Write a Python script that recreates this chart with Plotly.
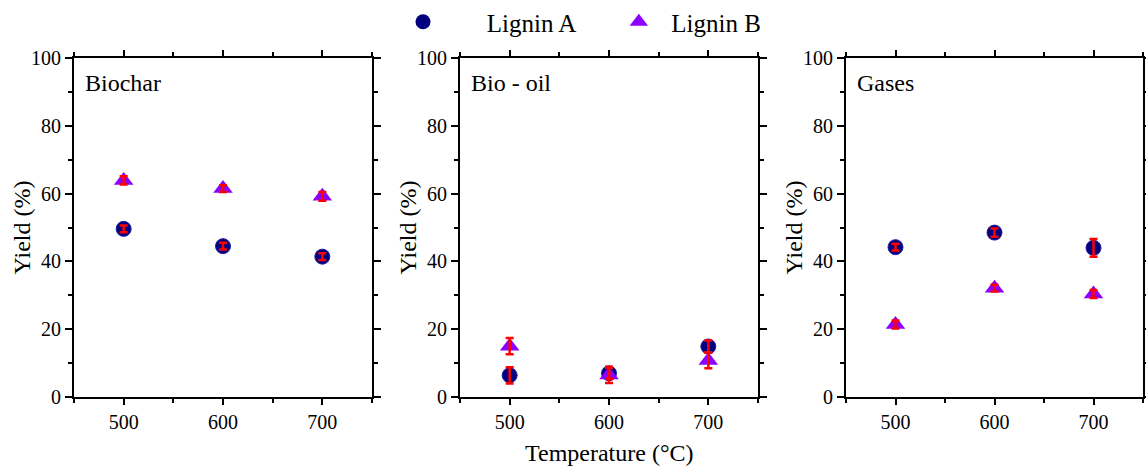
import plotly.graph_objects as go

temps = [500, 600, 700]

biochar_A = [49.6, 44.5, 41.4]
biochar_A_err = [1.0, 1.0, 1.0]
biochar_B = [63.9, 61.5, 59.2]
biochar_B_err = [1.2, 1.0, 1.3]

biooil_A = [6.4, 7.0, 14.9]
biooil_A_err = [2.4, 1.6, 1.8]
biooil_B = [15.0, 6.5, 10.8]
biooil_B_err = [2.4, 2.4, 2.3]

gases_A = [44.2, 48.5, 44.0]
gases_A_err = [1.0, 1.2, 2.6]
gases_B = [21.4, 32.1, 30.4]
gases_B_err = [1.2, 1.0, 1.2]

panel_names = ["Biochar", "Bio - oil", "Gases"]
series_names = ["Lignin A", "Lignin B"]
y_title = "Yield (%)"
x_title = "Temperature (°C)"

panels = [
    (biochar_A, biochar_A_err, biochar_B, biochar_B_err),
    (biooil_A, biooil_A_err, biooil_B, biooil_B_err),
    (gases_A, gases_A_err, gases_B, gases_B_err),
]

W, H = 1146, 466
FONT = "Liberation Serif, Times New Roman, serif"
colA = "#000080"
colB = "#8B00FF"
colErr = "#FF0000"

x_doms = [(74, 372), (460, 758), (846, 1143)]
y_dom = [1 - 397 / H, 1 - 58 / H]

fig = go.Figure()

for i, (ya, ea, yb, eb) in enumerate(panels):
    xa = "x" if i == 0 else f"x{i+1}"
    yax = "y" if i == 0 else f"y{i+1}"
    fig.add_trace(go.Scatter(x=temps, y=ya, mode="markers", xaxis=xa, yaxis=yax,
                             marker=dict(symbol="circle", size=15, color=colA,
                                         line=dict(width=1, color="#2020a0")),
                             showlegend=False))
    fig.add_trace(go.Scatter(x=temps, y=yb, mode="markers", xaxis=xa, yaxis=yax,
                             marker=dict(symbol="triangle-up", size=17, color=colB,
                                         line=dict(width=0)),
                             showlegend=False))
    for yy, ee in ((ya, ea), (yb, eb)):
        fig.add_trace(go.Scatter(x=temps, y=yy, mode="markers", xaxis=xa, yaxis=yax,
                                 marker=dict(size=1, opacity=0),
                                 error_y=dict(type="data", array=ee, visible=True,
                                              color=colErr, thickness=2.5, width=4),
                                 showlegend=False, hoverinfo="skip"))

    common = dict(showline=True, linecolor="black", linewidth=1.8, mirror="ticks",
                  ticks="outside", tickwidth=1.8, tickcolor="black",
                  showgrid=False, zeroline=False, automargin=False,
                  tickfont=dict(family=FONT, size=20, color="black"))
    xkey = "xaxis" if i == 0 else f"xaxis{i+1}"
    ykey = "yaxis" if i == 0 else f"yaxis{i+1}"
    d0, d1 = x_doms[i]
    fig.update_layout(**{
        xkey: dict(domain=[d0 / W, d1 / W], range=[450, 750], tickvals=temps,
                   ticklen=6, anchor=yax,
                   minor=dict(ticks="outside", ticklen=4, tickwidth=1.8, dtick=50,
                              tick0=450, tickcolor="black"),
                   **common),
        ykey: dict(domain=y_dom, range=[0, 100], dtick=20, tick0=0, ticklen=7,
                   anchor=xa,
                   minor=dict(ticks="outside", ticklen=4, tickwidth=1.8, dtick=10,
                              tick0=0, tickcolor="black"),
                   **common),
    })
    fig.add_annotation(text=panel_names[i], xref=f"{xa} domain", yref=f"{yax} domain",
                       x=0.03, y=0.926, xanchor="left", yanchor="middle",
                       showarrow=False, font=dict(family=FONT, size=24, color="black"))
    fig.add_annotation(text=y_title, xref=f"{xa} domain", yref=f"{yax} domain",
                       x=-52 / (d1 - d0), y=0.5, xanchor="center", yanchor="middle",
                       textangle=-90, showarrow=False,
                       font=dict(family=FONT, size=24, color="black"))

# legend-only entries
nb = "\u00a0"
fig.add_trace(go.Scatter(x=[None], y=[None], mode="markers",
                         name=nb * 7 + series_names[0] + nb * 6,
                         marker=dict(symbol="circle", size=15, color=colA)))
fig.add_trace(go.Scatter(x=[None], y=[None], mode="markers",
                         name=nb * 2 + series_names[1],
                         marker=dict(symbol="triangle-up", size=17, color=colB)))

fig.add_annotation(text=x_title, xref="paper", yref="paper",
                   x=609 / W, y=1 - 453 / H, xanchor="center", yanchor="middle",
                   showarrow=False, font=dict(family=FONT, size=24, color="black"))

fig.update_layout(
    width=W, height=H,
    font=dict(family=FONT, color="black"),
    margin=dict(l=0, r=0, t=0, b=0, autoexpand=False),
    paper_bgcolor="white", plot_bgcolor="white",
    legend=dict(orientation="h", x=403 / W, xanchor="left", y=1 - 22 / H,
                yanchor="middle",
                font=dict(family=FONT, size=25, color="black"),
                bgcolor="rgba(0,0,0,0)", itemsizing="trace"),
)

fig.write_html("out.html")
